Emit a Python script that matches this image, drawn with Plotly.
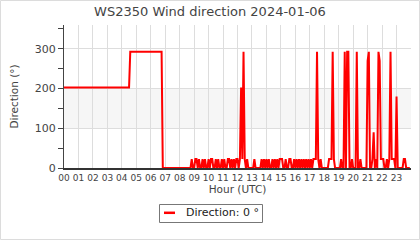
import plotly.graph_objects as go

# ---------------- data ----------------
hour_ticks = [0, 1, 2, 3, 4, 5, 6, 7, 8, 9, 10, 11, 12, 13, 14, 15, 16, 17, 18, 19, 20, 21, 22, 23]
hour_labels = ["00", "01", "02", "03", "04", "05", "06", "07", "08", "09", "10", "11",
               "12", "13", "14", "15", "16", "17", "18", "19", "20", "21", "22", "23"]
y_ticks = [0, 100, 200, 300]

# early part of the day: minutes after 00:00 UTC and direction (deg)
early_minutes = [0, 270, 275, 405, 410, 525]
early_direction = [202.5, 202.5, 292.5, 292.5, 0, 0]

# from 08:50 onwards samples every 5 minutes
late_start_minute = 530
late_step_minute = 5
late_direction = (
    [22.5, 0]                                                             # 08:50-08:55
    + [0, 22.5, 22.5, 0, 22.5, 0, 0, 22.5, 0, 22.5, 0, 0]                 # 09
    + [22.5, 0, 22.5, 22.5, 0, 0, 22.5, 0, 22.5, 0, 0, 22.5]              # 10
    + [0, 22.5, 0, 0, 22.5, 22.5, 0, 22.5, 0, 22.5, 0, 22.5]              # 11
    + [22.5, 0, 22.5, 202.5, 22.5, 292.5, 22.5, 0, 22.5, 0, 0, 0]         # 12
    + [0, 0, 22.5, 0, 0, 0, 0, 0, 22.5, 0, 22.5, 0]                       # 13
    + [22.5, 0, 22.5, 0, 0, 22.5, 0, 22.5, 0, 22.5, 0, 22.5]              # 14
    + [22.5, 22.5, 0, 0, 22.5, 0, 0, 22.5, 22.5, 0, 0, 22.5]              # 15
    + [0, 22.5, 0, 22.5, 0, 22.5, 0, 22.5, 0, 22.5, 0, 22.5]              # 16
    + [0, 22.5, 0, 22.5, 22.5, 22.5, 292.5, 22.5, 0, 22.5, 0, 0]          # 17
    + [0, 0, 0, 0, 22.5, 22.5, 22.5, 292.5, 22.5, 0, 0, 0]                # 18
    + [0, 0, 22.5, 0, 0, 292.5, 0, 292.5, 292.5, 0, 0, 22.5]              # 19
    + [0, 0, 0, 292.5, 0, 0, 22.5, 0, 0, 0, 0, 0]                         # 20
    + [270, 292.5, 0, 0, 22.5, 90, 0, 22.5, 0, 292.5, 270, 22.5]          # 21
    + [22.5, 22.5, 0, 0, 22.5, 0, 22.5, 292.5, 22.5, 22.5, 22.5, 0]       # 22
    + [180, 0, 0, 0, 0, 0, 22.5, 22.5, 0, 0, 0, 0]                        # 23
)

late_minutes = [late_start_minute + late_step_minute * i for i in range(len(late_direction))]
minutes = early_minutes + late_minutes
direction = early_direction + late_direction
hours = [m / 60.0 for m in minutes]

# ---------------- layout helpers ----------------
W, H = 420, 240
L, R, T, B = 64, 9, 25, 72
PW, PH = W - L - R, H - T - B


def px(x):
    return (x - L) / PW


def py(y):
    return (H - B - y) / PH


FONT = "DejaVu Sans"
GREY_TXT = "#444444"
GRID = "#dddddd"

fig = go.Figure()
fig.add_trace(go.Scatter(
    x=hours, y=direction, mode="lines",
    line=dict(color="#ff0000", width=2),
    name="Direction: 0 °", showlegend=False,
))

shapes = [
    # shaded band 100-200
    dict(type="rect", xref="x", yref="y", x0=0, x1=24, y0=100, y1=200,
         fillcolor="#f6f6f6", line=dict(width=0), layer="below"),
    # outer border
    dict(type="rect", xref="paper", yref="paper", x0=px(0.5), x1=px(W - 0.5),
         y0=py(H - 0.5), y1=py(0.5), line=dict(color="#dcdcdc", width=1)),
    # legend box
    dict(type="rect", xref="paper", yref="paper", x0=px(159.5), x1=px(262.5),
         y0=py(222.5), y1=py(204.5), line=dict(color="#777777", width=1),
         fillcolor="white"),
    # legend sample line
    dict(type="line", xref="paper", yref="paper", x0=px(164), x1=px(175),
         y0=py(212.8), y1=py(212.8), line=dict(color="#ff0000", width=2.5)),
]

annotations = [
    dict(text="Direction: 0 °", xref="paper", yref="paper", x=px(184), y=py(213),
         xanchor="left", yanchor="middle", showarrow=False,
         font=dict(family=FONT, size=11, color="#222222")),
]

fig.update_layout(
    width=W, height=H,
    margin=dict(l=L, r=R, t=T, b=B, pad=0),
    paper_bgcolor="white", plot_bgcolor="white",
    font=dict(family=FONT, color=GREY_TXT),
    title=dict(text="WS2350 Wind direction 2024-01-06", x=0.5, xref="container",
               y=1 - 11 / H, yref="container", xanchor="center", yanchor="middle",
               font=dict(family=FONT, size=13, color=GREY_TXT)),
    showlegend=False,
    shapes=shapes,
    annotations=annotations,
)

fig.update_xaxes(
    range=[0, 24], tickmode="array", tickvals=hour_ticks, ticktext=hour_labels,
    showgrid=True, gridcolor=GRID, gridwidth=1, zeroline=False,
    showline=True, linecolor="#333333", linewidth=2, ticks="",
    tickfont=dict(family=FONT, size=9, color=GREY_TXT),
    title=dict(text="Hour (UTC)", standoff=4,
               font=dict(family=FONT, size=10.5, color=GREY_TXT)),
    fixedrange=True,
)
fig.update_yaxes(
    range=[0, 360], tickmode="array", tickvals=y_ticks,
    showgrid=True, gridcolor=GRID, gridwidth=1, zeroline=False,
    showline=True, linecolor="#444444", linewidth=1,
    ticks="outside", ticklen=5, tickcolor="#444444",
    minor=dict(dtick=50, tick0=0, ticks="outside", ticklen=5, tickcolor="#444444", showgrid=False),
    tickfont=dict(family=FONT, size=11, color=GREY_TXT),
    title=dict(text="Direction (°)", standoff=14,
               font=dict(family=FONT, size=10.5, color=GREY_TXT)),
    fixedrange=True,
)

fig.write_html("out.html")
